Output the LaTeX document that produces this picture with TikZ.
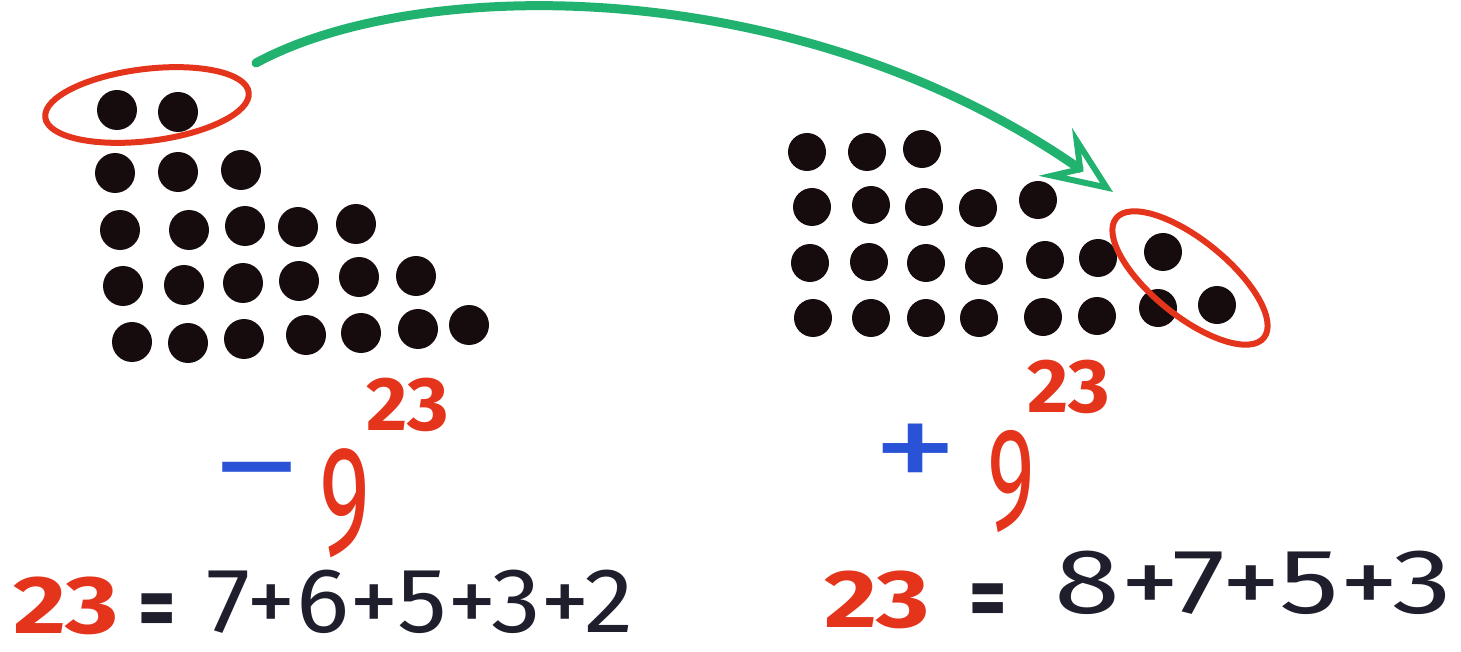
\documentclass[tikz,border=0pt]{standalone}
\usepackage{fontspec}
\setmainfont{Fira Sans}
\usepackage{xcolor}
\usepackage{tikz}
\usetikzlibrary{positioning,arrows.meta,shapes.geometric}
\definecolor{beadblack}{RGB}{22,12,14}
\definecolor{penred}{RGB}{228,52,28}
\definecolor{penblue}{RGB}{42,82,214}
\definecolor{pengreen}{RGB}{34,178,112}
\definecolor{pendark}{RGB}{30,30,44}

\begin{document}
\begin{tikzpicture}[x=1pt, y=-1pt,
		bead/.style={circle, fill=beadblack, minimum size=40pt, inner sep=0pt},
		ring/.style={ellipse, draw=penred, line width=6pt, inner sep=0pt},
		sumtext/.style={text=pendark, inner sep=0pt, font=\fontsize{92}{92}\selectfont},
		eqtext/.style={text=pendark, inner sep=0pt, xscale=0.8, font=\fontsize{90}{90}\selectfont\bfseries},
		totaltext/.style={text=penred, inner sep=0pt, xscale=1.25, font=\fontsize{82}{82}\selectfont\bfseries},
		suptext/.style={text=penred, inner sep=0pt, xscale=1.05, font=\fontsize{76}{76}\selectfont\bfseries},
		ninetext/.style={text=penred, inner sep=0pt, xscale=0.62, font=\fontsize{156}{156}\selectfont},
		signtext/.style={text=penblue, inner sep=0pt, xscale=1.4, font=\fontsize{130}{130}\selectfont}]
		\useasboundingbox (0,0) rectangle (1461,652);
		% left stack: 2+3+5+6+7 beads
		\foreach \x/\y [count=\i] in {117/110, 178/112,
			115/173, 178/172, 241/170,
			120/230, 189/230, 245/226, 298/227, 356/224,
			123/286, 184/285, 243/283, 299/281, 359/277, 416/276,
			132/342, 188/343, 244/339, 306/335, 361/333, 418/329, 469/325}
		\node[bead] (l\i) at (\x,\y) {};
		% right stack: 3+5+7+8 beads
		\foreach \x/\y [count=\i] in {807/152, 867/152, 922/149,
			812/207, 871/205, 924/207, 978/208, 1038/200,
			810/263, 869/262, 926/263, 984/266, 1045/260, 1098/258, 1163/252,
			813/318, 871/318, 926/318, 979/318, 1043/317, 1097/316, 1158/308, 1217/305}
		\node[bead, minimum size=38pt] (r\i) at (\x,\y) {};
		% red loops round the two moved beads
		\node[ring, minimum width=205pt, minimum height=72pt, rotate=7] (loopL) at (147,105) {};
		\node[ring, minimum width=190pt, minimum height=76pt, rotate=-39] (loopR) at (1190,278) {};
		% green arrow: the two beads go over
		\coordinate (arrowS) at (256,63);
		\coordinate (arrowE) at (1113,192);
		\draw[draw=pengreen, line width=9pt, line cap=round,
		-{Stealth[open, length=70pt, width=58pt, inset=26pt, line width=6pt]}]
		(arrowS) .. controls (420,-26) and (800,-26) .. (arrowE);
		% left: minus 9^23
		\node[signtext] (minusL) at (257,486) {−};
		\node[ninetext] (nineL) at (345,503) {9};
		\node[suptext] (supL) at (408,405) {23};
		% left sum
		\node[totaltext] (totalL) at (66,606) {23};
		\node[eqtext] (eqL) at (157,616) {=};
		\node[sumtext, xscale=1.08] (sumL) at (420,602) {7+6+5+3+2};
		% right: plus 9^23
		\node[signtext, xscale=0.95] (plusR) at (916,458) {+};
		\node[ninetext, font=\fontsize{146}{146}\selectfont] (nineR) at (1011,482) {9};
		\node[suptext] (supR) at (1069,387) {23};
		% right sum
		\node[totaltext] (totalR) at (877,600) {23};
		\node[eqtext] (eqR) at (988,606) {=};
		\node[sumtext, xscale=1.3] (sumR) at (1253,583) {8+7+5+3};
	\end{tikzpicture}
\end{document}
